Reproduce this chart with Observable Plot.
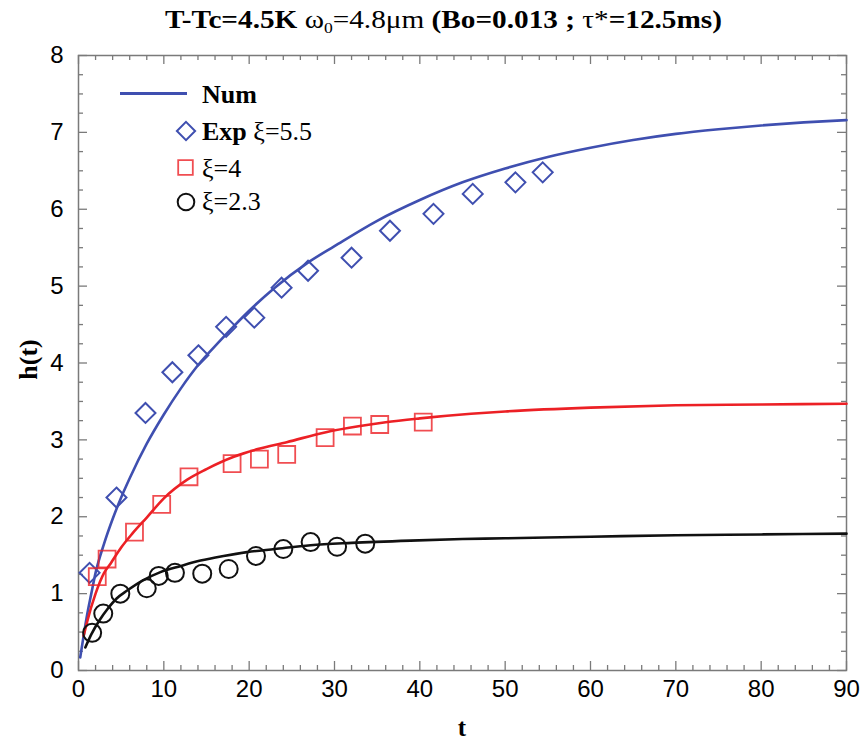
<!DOCTYPE html>
<html>
<head>
<meta charset="utf-8">
<script src="https://cdn.jsdelivr.net/npm/d3@7"></script>
<script src="https://cdn.jsdelivr.net/npm/@observablehq/plot@0.6"></script>
<style>
  html, body { margin: 0; padding: 0; background: #fff; }
</style>
</head>
<body>
<div id="chart"></div>
<script>
// ---- data ----
// numerical curves (Num)
const numT55 = [0.2, 0.5, 1, 1.5, 2, 3, 4, 5, 6, 8, 10, 12, 14, 16.6, 20, 23, 26.8, 30, 35, 40, 45, 50, 55, 60, 65, 70, 75, 80, 85, 90];
const numH55 = [0.17, 0.38, 0.72, 1.0, 1.27, 1.65, 1.97, 2.25, 2.5, 2.95, 3.33, 3.67, 3.97, 4.29, 4.68, 4.98, 5.3, 5.52, 5.85, 6.12, 6.35, 6.53, 6.68, 6.8, 6.9, 6.98, 7.04, 7.09, 7.13, 7.16];
const numT4 = [0.6, 1, 2, 3, 3.75, 5, 6.3, 8, 10, 12.7, 15, 18.2, 21, 24.4, 29, 33, 36, 40, 46, 50, 60, 70, 80, 90];
const numH4 = [0.45, 0.63, 1.0, 1.27, 1.39, 1.6, 1.78, 1.99, 2.24, 2.48, 2.62, 2.78, 2.88, 2.97, 3.1, 3.18, 3.23, 3.28, 3.34, 3.37, 3.42, 3.45, 3.46, 3.47];
const numT23 = [0.8, 1.5, 2.5, 3.4, 4.5, 5.7, 7.5, 9.6, 12, 14.3, 17, 19.75, 23, 27.2, 32, 38.9, 45, 50, 60, 70, 80, 90];
const numH23 = [0.3, 0.47, 0.66, 0.8, 0.94, 1.04, 1.17, 1.28, 1.36, 1.43, 1.49, 1.54, 1.58, 1.63, 1.66, 1.69, 1.71, 1.72, 1.74, 1.76, 1.77, 1.78];
// experiments
const expT55 = [1.3, 4.45, 7.85, 11.0, 14.05, 17.3, 20.6, 23.8, 26.9, 32.0, 36.5, 41.6, 46.2, 51.2, 54.4];
const expH55 = [1.27, 2.25, 3.35, 3.88, 4.1, 4.47, 4.59, 4.98, 5.2, 5.37, 5.72, 5.94, 6.2, 6.35, 6.48];
const expT4 = [2.2, 3.35, 6.56, 9.75, 12.95, 18.0, 21.2, 24.4, 28.9, 32.1, 35.3, 40.4];
const expH4 = [1.22, 1.45, 1.8, 2.16, 2.52, 2.69, 2.75, 2.81, 3.03, 3.18, 3.2, 3.23];
const expT23 = [1.6, 2.9, 4.9, 8.0, 9.4, 11.3, 14.5, 17.6, 20.8, 24.0, 27.2, 30.3, 33.6];
const expH23 = [0.49, 0.74, 1.0, 1.07, 1.23, 1.27, 1.26, 1.32, 1.49, 1.58, 1.67, 1.61, 1.65];
// axis ticks
const xTickLabels = [0, 10, 20, 30, 40, 50, 60, 70, 80, 90];
const yTickLabels = [0, 1, 2, 3, 4, 5, 6, 7, 8];
const xMinorStep = 2;
const yMinorStep = 0.25;
// texts
const legendLabels = ["Num", "Exp", " ξ=5.5", "ξ=4", "ξ=2.3"];

// ---- build tables ----
const zip = (ts, hs) => ts.map((t, i) => ({t, h: hs[i]}));
const c55 = zip(numT55, numH55), c4 = zip(numT4, numH4), c23 = zip(numT23, numH23);
const e55 = zip(expT55, expH55), e4 = zip(expT4, expH4), e23 = zip(expT23, expH23);

const BLUE = "#3f4fb0", RED = "#ec2025", BLACK = "#111";
const GRAY = "#7a7a7a";
const W = 862, H = 743, mL = 78, mR = 16, mT = 55, mB = 73;
const fw = W - mL - mR, fh = H - mT - mB;

const xMinor = d3.range(0, 90 + 1e-9, xMinorStep).filter(v => v % 10 !== 0);
const yMinor = d3.range(0, 8 + 1e-9, yMinorStep).filter(v => v % 1 !== 0);
const majL = 9, minL = 5;

const chart = Plot.plot({
  width: W, height: H,
  marginLeft: mL, marginRight: mR, marginTop: mT, marginBottom: mB,
  x: {domain: [0, 90]},
  y: {domain: [0, 8]},
  style: {fontFamily: "'Liberation Sans', Arial, Helvetica, sans-serif", color: "#000", background: "#fff"},
  marks: [
    Plot.axisX(xTickLabels, {tickSize: 0, tickPadding: 9, fontSize: 24, label: null, tickFormat: d => String(d)}),
    Plot.axisY(yTickLabels, {tickSize: 0, tickPadding: 15, fontSize: 24, label: null, tickFormat: d => String(d)}),
    // inward ticks on all four sides
    Plot.ruleX(xTickLabels, {insetTop: fh - majL, stroke: GRAY, strokeWidth: 1.3}),
    Plot.ruleX(xMinor, {insetTop: fh - minL, stroke: GRAY, strokeWidth: 1.3}),
    Plot.ruleX(xTickLabels, {insetBottom: fh - majL, stroke: GRAY, strokeWidth: 1.3}),
    Plot.ruleX(xMinor, {insetBottom: fh - minL, stroke: GRAY, strokeWidth: 1.3}),
    Plot.ruleY(yTickLabels, {insetRight: fw - majL, stroke: GRAY, strokeWidth: 1.3}),
    Plot.ruleY(yMinor, {insetRight: fw - minL, stroke: GRAY, strokeWidth: 1.3}),
    Plot.ruleY(yTickLabels, {insetLeft: fw - majL, stroke: GRAY, strokeWidth: 1.3}),
    Plot.ruleY(yMinor, {insetLeft: fw - minL, stroke: GRAY, strokeWidth: 1.3}),
    Plot.frame({stroke: GRAY, strokeWidth: 1.5}),
    // curves
    Plot.line(c55, {x: "t", y: "h", stroke: BLUE, strokeWidth: 2.6, curve: "monotone-x"}),
    Plot.line(c4, {x: "t", y: "h", stroke: RED, strokeWidth: 2.6, curve: "monotone-x"}),
    Plot.line(c23, {x: "t", y: "h", stroke: BLACK, strokeWidth: 2.6, curve: "monotone-x"}),
    // experimental points
    Plot.dot(e55, {x: "t", y: "h", symbol: "diamond2", r: 9, stroke: BLUE, strokeWidth: 2, fill: "none"}),
    Plot.dot(e4, {x: "t", y: "h", symbol: "square2", r: 10.8, stroke: RED, strokeWidth: 1.8, strokeOpacity: 0.8, fill: "none"}),
    Plot.dot(e23, {x: "t", y: "h", symbol: "circle", r: 9, stroke: BLACK, strokeWidth: 2, fill: "none"})
  ]
});
document.getElementById("chart").appendChild(chart);

// ---- title, axis labels, legend ----
const svg = d3.select(chart);
const serif = "'Liberation Serif', 'Times New Roman', Times, serif";

const title = svg.append("text")
  .attr("x", 165).attr("y", 28).attr("text-anchor", "start")
  .attr("textLength", 557).attr("lengthAdjust", "spacingAndGlyphs")
  .attr("font-family", serif).attr("font-size", 25).attr("fill", "#000");
title.append("tspan").attr("font-weight", "bold").text("T-Tc=4.5K ");
title.append("tspan").text("ω");
title.append("tspan").attr("font-size", 15).attr("dy", 5).text("0");
title.append("tspan").attr("dy", -5).text("=4.8μm ");
title.append("tspan").attr("font-weight", "bold").text("(Bo=0.013 ; ");
title.append("tspan").text("τ*");
title.append("tspan").attr("font-weight", "bold").text("=12.5ms)");

svg.append("text")
  .attr("x", mL + fw / 2).attr("y", 736).attr("text-anchor", "middle")
  .attr("font-family", serif).attr("font-weight", "bold").attr("font-size", 25).text("t");

svg.append("text")
  .attr("transform", `translate(37, ${mT + fh / 2 - 3}) rotate(-90)`)
  .attr("text-anchor", "middle")
  .attr("font-family", serif).attr("font-weight", "bold").attr("font-size", 26).text("h(t)");

// legend
const lg = svg.append("g").attr("font-family", serif).attr("font-size", 26).attr("fill", "#000")
  .attr("text-anchor", "start");
lg.append("line").attr("x1", 120).attr("x2", 187).attr("y1", 93.5).attr("y2", 93.5)
  .attr("stroke", BLUE).attr("stroke-width", 3);
lg.append("text").attr("x", 202).attr("y", 103).attr("font-weight", "bold").text(legendLabels[0]);
lg.append("path").attr("d", d3.symbol(d3.symbolDiamond2, Math.PI * 8.2 * 8.2)())
  .attr("transform", "translate(186,131)").attr("fill", "none").attr("stroke", BLUE).attr("stroke-width", 2);
const t1 = lg.append("text").attr("x", 202).attr("y", 140);
t1.append("tspan").attr("font-weight", "bold").text(legendLabels[1]);
t1.append("tspan").text(legendLabels[2]);
lg.append("path").attr("d", d3.symbol(d3.symbolSquare2, Math.PI * 9.3 * 9.3)())
  .attr("transform", "translate(185.5,167.5)").attr("fill", "none").attr("stroke", RED).attr("stroke-opacity", 0.8).attr("stroke-width", 1.8);
lg.append("text").attr("x", 202).attr("y", 176.5).text(legendLabels[3]);
lg.append("circle").attr("cx", 186).attr("cy", 202).attr("r", 8.3)
  .attr("fill", "none").attr("stroke", BLACK).attr("stroke-width", 2);
lg.append("text").attr("x", 202).attr("y", 210).text(legendLabels[4]);
</script>
</body>
</html>
